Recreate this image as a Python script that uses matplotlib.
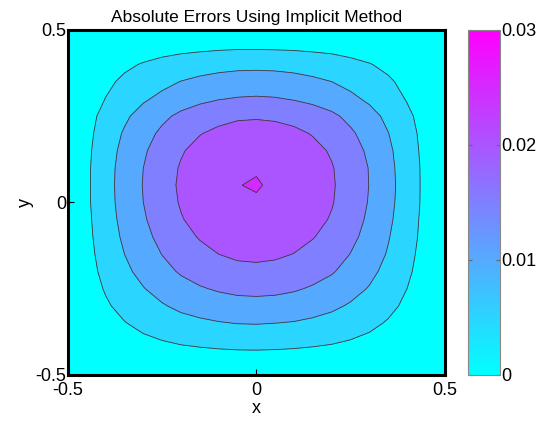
import numpy as np
import matplotlib
matplotlib.use("Agg")
import matplotlib.pyplot as plt
from matplotlib import cm
from matplotlib.colors import Normalize

plt.rcParams['font.family'] = ['Liberation Sans', 'DejaVu Sans']

# grid coordinates (step 0.05)
x_vals = [-0.5, -0.45, -0.4, -0.35, -0.3, -0.25, -0.2, -0.15, -0.1, -0.05, 0.0,
          0.05, 0.1, 0.15, 0.2, 0.25, 0.3, 0.35, 0.4, 0.45, 0.5]
y_vals = [-0.5, -0.45, -0.4, -0.35, -0.3, -0.25, -0.2, -0.15, -0.1, -0.05, 0.0,
          0.05, 0.1, 0.15, 0.2, 0.25, 0.3, 0.35, 0.4, 0.45, 0.5]

# absolute error (x 1e-3), rows = y from -0.5 up to 0.5
err_rows = [
    [0] * 21,
    [0, 0.6, 1.2, 1.7, 2.1, 2.5, 2.9, 3.1, 3.3, 3.5, 3.5, 3.4, 3.3, 3.1, 2.9, 2.5, 2.1, 1.6, 1.1, 0.5, 0],
    [0, 1.2, 2.3, 3.3, 4.2, 5.0, 5.7, 6.2, 6.6, 6.8, 6.9, 6.8, 6.5, 6.1, 5.6, 4.9, 4.1, 3.1, 2.1, 1.0, 0],
    [0, 1.7, 3.4, 4.8, 6.2, 7.3, 8.4, 9.1, 9.7, 10.1, 10.2, 10.0, 9.7, 9.1, 8.3, 7.2, 6.0, 4.6, 3.1, 1.6, 0],
    [0, 2.3, 4.4, 6.4, 8.1, 9.6, 11.0, 12.0, 12.8, 13.3, 13.4, 13.2, 12.7, 11.9, 10.9, 9.5, 7.9, 6.1, 4.1, 2.0, 0],
    [0, 2.7, 5.4, 7.7, 9.8, 11.7, 13.4, 14.6, 15.5, 16.1, 16.3, 16.1, 15.5, 14.5, 13.3, 11.6, 9.7, 7.4, 5.0, 2.5, 0],
    [0, 3.2, 6.3, 9.0, 11.4, 13.6, 15.5, 16.9, 18.0, 18.7, 18.9, 18.6, 17.9, 16.8, 15.4, 13.4, 11.2, 8.6, 5.8, 2.9, 0],
    [0, 3.5, 7.0, 10.0, 12.7, 15.1, 17.2, 18.8, 20.0, 20.8, 21.0, 20.7, 19.9, 18.7, 17.1, 14.9, 12.5, 9.6, 6.4, 3.2, 0],
    [0, 3.8, 7.5, 10.8, 13.7, 16.3, 18.6, 20.3, 21.6, 22.5, 22.7, 22.4, 21.5, 20.2, 18.5, 16.1, 13.5, 10.3, 6.9, 3.5, 0],
    [0, 4.0, 7.9, 11.4, 14.5, 17.2, 19.7, 21.5, 22.8, 23.8, 24.0, 23.6, 22.8, 21.4, 19.6, 17.0, 14.2, 10.9, 7.3, 3.6, 0],
    [0, 4.2, 8.2, 11.8, 15.0, 17.8, 20.4, 22.2, 23.7, 24.6, 24.8, 24.5, 23.6, 22.1, 20.3, 17.6, 14.7, 11.3, 7.6, 3.8, 0],
    [0, 4.2, 8.3, 11.9, 15.2, 18.1, 20.7, 22.6, 24.0, 24.95, 25.15, 24.7, 23.9, 22.4, 20.5, 17.9, 14.9, 11.5, 7.7, 3.8, 0],
    [0, 4.2, 8.2, 11.8, 15.0, 17.9, 20.4, 22.3, 23.7, 24.7, 24.85, 24.5, 23.6, 22.2, 20.3, 17.7, 14.8, 11.3, 7.6, 3.8, 0],
    [0, 4.0, 7.9, 11.3, 14.4, 17.2, 19.6, 21.4, 22.8, 23.7, 23.9, 23.5, 22.7, 21.3, 19.5, 16.9, 14.2, 10.9, 7.3, 3.6, 0],
    [0, 3.7, 7.3, 10.5, 13.3, 15.9, 18.1, 19.8, 21.0, 21.9, 22.1, 21.8, 21.0, 19.7, 18.0, 15.7, 13.1, 10.1, 6.8, 3.4, 0],
    [0, 3.3, 6.5, 9.2, 11.8, 14.0, 16.0, 17.5, 18.6, 19.3, 19.5, 19.2, 18.5, 17.4, 15.9, 13.8, 11.6, 8.9, 6.0, 3.0, 0],
    [0, 2.6, 5.1, 7.3, 9.4, 11.1, 12.7, 13.9, 14.8, 15.3, 15.5, 15.3, 14.7, 13.8, 12.6, 11.0, 9.2, 7.1, 4.7, 2.4, 0],
    [0, 2.1, 4.1, 5.8, 7.4, 8.8, 10.1, 11.0, 11.7, 12.2, 12.3, 12.1, 11.7, 10.9, 10.0, 8.7, 7.3, 5.6, 3.8, 1.9, 0],
    [0, 1.5, 2.9, 4.2, 5.3, 6.3, 7.2, 7.9, 8.4, 8.7, 8.8, 8.7, 8.3, 7.8, 7.2, 6.2, 5.2, 4.0, 2.7, 1.3, 0],
    [0, 0.7, 1.5, 2.1, 2.7, 3.2, 3.6, 3.9, 4.2, 4.4, 4.4, 4.3, 4.2, 3.9, 3.6, 3.1, 2.6, 2.0, 1.3, 0.7, 0],
    [0] * 21,
]

levels = [0, 0.005, 0.01, 0.015, 0.02, 0.025, 0.03]
cbar_ticks = [0, 0.01, 0.02, 0.03]
cbar_labels = ['0', '0.01', '0.02', '0.03']
axis_ticks = [-0.5, 0, 0.5]
axis_labels = ['-0.5', '0', '0.5']

X, Y = np.meshgrid(x_vals, y_vals)
Z = np.array(err_rows) * 1e-3

cmap = matplotlib.colormaps['cool']
norm = Normalize(vmin=0, vmax=0.03)
# MATLAB style: each band coloured by its lower level
band_colors = [cmap(norm(l)) for l in levels[:-1]]

fig = plt.figure(figsize=(5.46, 4.24), dpi=100)
ax = fig.add_axes([0.1245, 0.1156, 0.690, 0.814])
cax = fig.add_axes([0.857, 0.1156, 0.0586, 0.814])

ax.contourf(X, Y, Z, levels=levels, colors=band_colors)
ax.contour(X, Y, Z, levels=levels[1:], colors='#3a3a3a', linewidths=0.6)

ax.set_xlim(-0.5, 0.5)
ax.set_ylim(-0.5, 0.5)
ax.set_xticks(axis_ticks)
ax.set_xticklabels(axis_labels)
ax.set_yticks(axis_ticks)
ax.set_yticklabels(axis_labels)
ax.tick_params(direction='in', length=4, labelsize=13)
ax.tick_params(axis='x', pad=5)
ax.tick_params(axis='y', pad=1)
for sp in ax.spines.values():
    sp.set_linewidth(2.2)
    sp.set_color('black')

ax.set_xlabel('x', fontsize=13, labelpad=1)
ax.set_ylabel('y', fontsize=13, labelpad=1)
ax.set_title('Absolute Errors Using Implicit Method', fontsize=12.5, pad=6)

sm = cm.ScalarMappable(norm=norm, cmap=cmap)
cb = fig.colorbar(sm, cax=cax, ticks=cbar_ticks)
cb.ax.set_yticklabels(cbar_labels)
cb.ax.tick_params(direction='in', length=3, labelsize=13, pad=1,
                  color='#666666', left=True, right=True)
cb.outline.set_edgecolor('#888888')
cb.outline.set_linewidth(0.8)

fig.savefig('out.png', dpi=100)
